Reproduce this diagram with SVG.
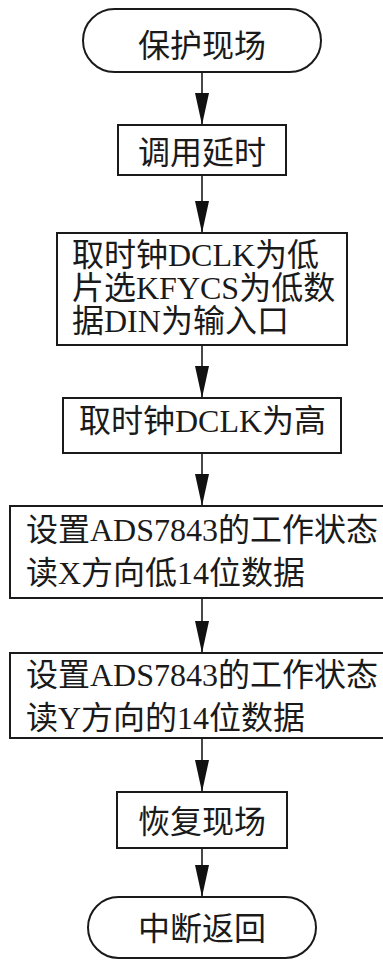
<svg xmlns="http://www.w3.org/2000/svg" width="383" height="961" viewBox="0 0 383 961">
<style>
.n{fill:#fff;stroke:#1a1a1a;stroke-width:2}
.t{font-family:"Liberation Serif","Noto Sans CJK SC",serif;font-size:32px;fill:#1a1a1a}
.c{text-anchor:middle}
.e{stroke:#1a1a1a;stroke-width:1.6;fill:none}
</style>
<defs>
<marker id="ah" markerUnits="userSpaceOnUse" markerWidth="34" markerHeight="16" viewBox="0 0 34 16" refX="33" refY="8" orient="auto">
<path d="M1,1 L33,8 L1,15 Z" fill="#111"/>
</marker>
</defs>
<rect width="383" height="961" fill="#fff"/>
<g id="edges">
<line class="e" x1="202" y1="72" x2="202" y2="125" marker-end="url(#ah)"/>
<line class="e" x1="202" y1="175" x2="202" y2="233" marker-end="url(#ah)"/>
<line class="e" x1="202" y1="345" x2="202" y2="398" marker-end="url(#ah)"/>
<line class="e" x1="202" y1="453" x2="202" y2="506" marker-end="url(#ah)"/>
<line class="e" x1="202" y1="598" x2="202" y2="653" marker-end="url(#ah)"/>
<line class="e" x1="202" y1="738" x2="202" y2="792" marker-end="url(#ah)"/>
<line class="e" x1="202" y1="848" x2="202" y2="897" marker-end="url(#ah)"/>
</g>
<g id="start">
<rect class="n" x="83" y="9" width="238" height="63" rx="31.5" ry="31.5"/>
<text class="t c" x="202" y="57">保护现场</text>
</g>
<g id="delay">
<rect class="n" x="118" y="125" width="168" height="50"/>
<text class="t c" x="202" y="164">调用延时</text>
</g>
<g id="init">
<rect class="n" x="57" y="233" width="290" height="112"/>
<text class="t" x="72" y="266">取时钟DCLK为低</text>
<text class="t" x="72" y="299">片选KFYCS为低数</text>
<text class="t" x="72" y="332">据DIN为输入口</text>
</g>
<g id="clkhigh">
<rect class="n" x="63" y="398" width="278" height="55"/>
<text class="t" x="79" y="432">取时钟DCLK为高</text>
</g>
<g id="readx">
<rect class="n" x="10" y="506" width="380" height="92"/>
<text class="t" x="26" y="541">设置ADS7843的工作状态</text>
<text class="t" x="26" y="584">读X方向低14位数据</text>
</g>
<g id="ready">
<rect class="n" x="10" y="653" width="380" height="85"/>
<text class="t" x="26" y="686">设置ADS7843的工作状态</text>
<text class="t" x="26" y="729">读Y方向的14位数据</text>
</g>
<g id="restore">
<rect class="n" x="117" y="792" width="170" height="56"/>
<text class="t c" x="202" y="833">恢复现场</text>
</g>
<g id="end">
<rect class="n" x="88" y="897" width="228" height="61" rx="30.5" ry="30.5"/>
<text class="t c" x="202" y="940">中断返回</text>
</g>
</svg>
